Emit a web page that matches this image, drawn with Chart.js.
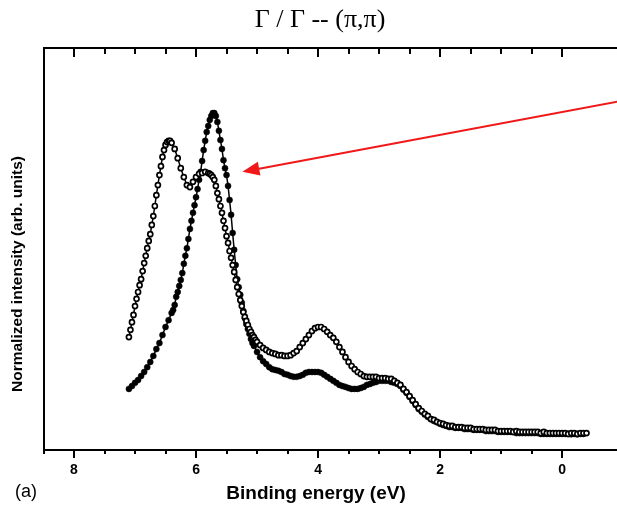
<!DOCTYPE html>
<html>
<head>
<meta charset="utf-8">
<script src="https://cdn.jsdelivr.net/npm/chart.js@4.4.1/dist/chart.umd.min.js"></script>
<style>
  html, body { margin: 0; padding: 0; background: #ffffff; }
  #wrap { width: 617px; height: 507px; position: relative; }
</style>
</head>
<body>
<div id="wrap"><canvas id="spec" width="617" height="507"></canvas></div>
<script>
// Γ / Γ -- (π,π) photoemission spectra: intensity vs binding energy (eV)

// Open-circle spectrum
const openEnergy = [
  7.100, 7.075, 7.050, 7.025, 7.000, 6.975, 6.950, 6.925, 6.900, 6.875,
  6.850, 6.825, 6.800, 6.775, 6.750, 6.725, 6.700, 6.675, 6.650, 6.625,
  6.600, 6.575, 6.550, 6.525, 6.500, 6.475, 6.450, 6.425, 6.400,
  6.35, 6.30, 6.25, 6.20, 6.15, 6.10, 6.05, 6.00, 5.95, 5.90, 5.85, 5.80,
  5.775, 5.750, 5.725, 5.700, 5.675, 5.650, 5.625, 5.600, 5.575, 5.550,
  5.525, 5.500, 5.475, 5.450, 5.425, 5.400, 5.375, 5.350, 5.325, 5.300,
  5.275, 5.250, 5.225, 5.200, 5.175, 5.150, 5.125, 5.100, 5.075, 5.050,
  5.025, 5.000,
  4.95, 4.90, 4.85, 4.80, 4.75, 4.70, 4.65, 4.60, 4.55, 4.50,
  4.45, 4.40, 4.35, 4.30, 4.25, 4.20, 4.15, 4.10, 4.05, 4.00,
  3.95, 3.90, 3.85, 3.80, 3.75, 3.70, 3.65, 3.60, 3.55, 3.50,
  3.45, 3.40, 3.35, 3.30, 3.25, 3.20, 3.15, 3.10, 3.05, 3.00,
  2.95, 2.90, 2.85, 2.80, 2.75, 2.70, 2.65, 2.60, 2.55, 2.50,
  2.45, 2.40, 2.35, 2.30, 2.25, 2.20, 2.15, 2.10, 2.05, 2.00,
  1.95, 1.90, 1.85, 1.80, 1.75, 1.70, 1.65, 1.60, 1.55, 1.50,
  1.45, 1.40, 1.35, 1.30, 1.25, 1.20, 1.15, 1.10, 1.05, 1.00,
  0.95, 0.90, 0.85, 0.80, 0.75, 0.70, 0.65, 0.60, 0.55, 0.50,
  0.45, 0.40, 0.35, 0.30, 0.25, 0.20, 0.15, 0.10, 0.05, 0.00,
  -0.05, -0.10, -0.15, -0.20, -0.25, -0.30, -0.35, -0.40
];
const openIntensity = [
  28.1, 29.9, 31.8, 33.6, 35.8, 37.6, 39.3, 41.0, 42.5, 44.5,
  46.5, 48.3, 50.2, 52.0, 53.7, 56.0, 58.2, 60.7, 63.4, 65.9,
  68.4, 70.6, 72.9, 74.6, 75.9, 76.6, 76.9, 76.9, 76.4,
  74.9, 72.6, 70.1, 67.9, 65.9, 65.4, 66.7, 67.9, 68.7, 68.9, 69.2, 68.9,
  68.7, 68.4, 67.9, 67.2, 65.7, 63.9, 62.4, 60.7, 59.0, 57.0,
  55.2, 53.2, 51.5, 49.5, 47.8, 46.0, 44.3, 42.3, 40.5, 38.8,
  37.3, 35.8, 34.3, 33.1, 32.1, 31.1, 30.1, 29.4, 28.6, 28.1,
  27.4, 26.9,
  26.1, 25.4, 24.9, 24.4, 24.1, 23.9, 23.6, 23.6, 23.4, 23.4,
  23.6, 24.1, 24.6, 25.6, 26.6, 27.6, 28.6, 29.6, 30.3, 30.6,
  30.6, 30.1, 29.4, 28.6, 27.9, 26.9, 25.6, 24.4, 23.1, 21.9,
  20.9, 20.1, 19.4, 18.9, 18.4, 18.2, 18.2, 18.2, 18.2, 17.9,
  17.9, 17.9, 17.7, 17.7, 17.2, 16.7, 16.2, 15.2, 14.4, 13.4,
  12.4, 11.4, 10.4, 9.7, 9.0, 8.5, 7.7, 7.5, 7.0, 6.7,
  6.5, 6.2, 6.0, 6.0, 5.7, 5.7, 5.7, 5.5, 5.5, 5.5,
  5.2, 5.2, 5.2, 5.2, 5.0, 5.0, 5.0, 5.0, 4.7, 4.7,
  4.7, 4.7, 4.7, 4.5, 4.7, 4.5, 4.5, 4.5, 4.5, 4.5,
  4.5, 4.5, 4.2, 4.5, 4.2, 4.2, 4.2, 4.2, 4.2, 4.2,
  4.2, 4.0, 4.2, 4.2, 4.0, 4.2, 4.2, 4.2
];

// Filled-circle spectrum
const filledEnergy = [
  7.10, 7.05, 7.00, 6.95, 6.90, 6.85, 6.80, 6.75, 6.70, 6.65,
  6.60, 6.55, 6.50, 6.45, 6.40,
  6.375, 6.350, 6.325, 6.300, 6.275, 6.250, 6.225, 6.200, 6.175, 6.150,
  6.125, 6.100, 6.075, 6.050, 6.025, 6.000, 5.975, 5.950, 5.925, 5.900,
  5.875, 5.850, 5.825, 5.800, 5.775, 5.750, 5.725, 5.700, 5.675, 5.650,
  5.625, 5.600, 5.575, 5.550, 5.525, 5.500, 5.475, 5.450, 5.425, 5.400,
  5.375, 5.350, 5.325, 5.300, 5.275, 5.250, 5.225, 5.200, 5.175, 5.150,
  5.125, 5.100, 5.075, 5.050,
  5.00, 4.95, 4.90, 4.85, 4.80, 4.75, 4.70, 4.65, 4.60, 4.55,
  4.50, 4.45, 4.40, 4.35, 4.30, 4.25, 4.20, 4.15, 4.10, 4.05,
  4.00, 3.95, 3.90, 3.85, 3.80, 3.75, 3.70, 3.65, 3.60, 3.55,
  3.50, 3.45, 3.40, 3.35, 3.30, 3.25, 3.20, 3.15, 3.10, 3.05,
  3.00, 2.95, 2.90, 2.85, 2.80, 2.75, 2.70, 2.65, 2.60, 2.55,
  2.50, 2.45, 2.40, 2.35, 2.30, 2.25, 2.20, 2.15, 2.10, 2.05,
  2.00, 1.95, 1.90, 1.85, 1.80, 1.75, 1.70, 1.65, 1.60, 1.55,
  1.50, 1.45, 1.40, 1.35, 1.30, 1.25, 1.20, 1.15, 1.10, 1.05,
  1.00, 0.95, 0.90, 0.85, 0.80, 0.75, 0.70, 0.65, 0.60, 0.55,
  0.50, 0.45, 0.40, 0.35, 0.30, 0.25, 0.20, 0.15, 0.10, 0.05,
  0.00, -0.05, -0.10, -0.15, -0.20, -0.25, -0.30, -0.35
];
const filledIntensity = [
  15.2, 15.9, 16.7, 17.4, 18.4, 19.4, 20.6, 21.9, 23.4, 25.1,
  26.6, 28.6, 30.6, 32.3, 34.1,
  34.8, 36.1, 38.1, 39.3, 40.8, 42.3, 44.0, 46.3, 48.3, 50.2,
  52.5, 55.0, 57.0, 59.0, 60.9, 62.9, 64.9, 67.2, 69.2, 71.9,
  74.6, 76.9, 79.1, 80.6, 82.1, 83.1, 83.8, 83.8, 83.1, 81.6,
  79.4, 77.1, 74.9, 72.1, 70.1, 68.4, 65.7, 62.2, 58.5, 54.0,
  49.8, 46.0, 42.5, 40.5, 38.6, 36.6, 34.6, 32.8, 31.3, 30.1,
  28.9, 27.6, 26.6, 25.9,
  24.4, 23.1, 22.1, 21.4, 20.6, 20.1, 19.9, 19.7, 19.4, 18.9,
  18.7, 18.4, 18.2, 18.2, 18.4, 18.7, 19.2, 19.4, 19.4, 19.4,
  19.4, 19.2, 18.7, 18.2, 17.7, 17.2, 16.7, 16.2, 15.9, 15.7,
  15.4, 15.2, 15.2, 15.2, 15.4, 15.7, 16.2, 16.4, 16.7, 16.9,
  17.2, 17.2, 17.2, 17.2, 16.9, 16.7, 16.4, 15.9, 15.0, 14.2,
  13.2, 12.2, 11.2, 10.2, 9.5, 8.8, 8.2, 7.7, 7.2, 6.9,
  6.5, 6.2, 6.0, 5.7, 5.7, 5.5, 5.5, 5.5, 5.2, 5.2,
  5.2, 5.0, 5.0, 5.0, 5.0, 4.7, 4.7, 4.7, 4.7, 4.5,
  4.5, 4.5, 4.5, 4.5, 4.5, 4.2, 4.2, 4.2, 4.2, 4.2,
  4.2, 4.2, 4.2, 4.0, 4.0, 4.0, 4.0, 4.0, 4.0, 4.0,
  4.0, 4.0, 4.0, 3.9, 4.0, 3.9, 4.0, 4.0
];

// Axis range (binding energy runs right-to-left) and labelled ticks
const energyRange = [-0.9, 8.5];
const intensityRange = [0, 100];
const labelledTicks = [8, 6, 4, 2, 0];

// Red pointer: tip near the filled-curve shoulder, tail off to the upper right
const arrowTip = { x: 5.24, y: 69.2 };
const arrowTail = { x: -1.2, y: 87.5 };

const pairs = (xs, ys) => xs.map((x, i) => ({ x, y: ys[i] }));

// Keep the plot frame flush with the canvas edge
const noSidePadding = (s) => { s.paddingLeft = 0; s.paddingRight = 0; };

const frameTicks = {
  id: 'frameTicks',
  afterDraw(chart) {
    const { ctx, chartArea: a, scales: { x } } = chart;
    ctx.save();
    ctx.strokeStyle = '#000';
    ctx.lineWidth = 2;
    for (const t of x.ticks) {
      const v = t.value;
      if (Math.abs(v * 2 - Math.round(v * 2)) > 1e-6) continue;
      const px = Math.round(x.getPixelForValue(v));
      const major = labelledTicks.some(l => Math.abs(l - v) < 1e-6);
      ctx.beginPath();
      ctx.moveTo(px, a.bottom);
      ctx.lineTo(px, a.bottom + (major ? 8 : 4));
      ctx.moveTo(px, a.top);
      ctx.lineTo(px, a.top + (major ? 9 : 6));
      ctx.stroke();
    }
    ctx.restore();
  }
};

const pointer = {
  id: 'pointer',
  afterDatasetsDraw(chart) {
    const { ctx, scales: { x, y } } = chart;
    const tx = x.getPixelForValue(arrowTip.x), ty = y.getPixelForValue(arrowTip.y);
    const sx = x.getPixelForValue(arrowTail.x), sy = y.getPixelForValue(arrowTail.y);
    const ang = Math.atan2(ty - sy, tx - sx);
    const headLen = 17, headHalf = 7;
    const bx = tx - headLen * Math.cos(ang), by = ty - headLen * Math.sin(ang);
    ctx.save();
    ctx.strokeStyle = '#f01818';
    ctx.fillStyle = '#f01818';
    ctx.lineWidth = 2;
    ctx.beginPath();
    ctx.moveTo(sx, sy);
    ctx.lineTo(bx, by);
    ctx.stroke();
    ctx.beginPath();
    ctx.moveTo(tx, ty);
    ctx.lineTo(bx + headHalf * Math.sin(ang), by - headHalf * Math.cos(ang));
    ctx.lineTo(bx - headHalf * Math.sin(ang), by + headHalf * Math.cos(ang));
    ctx.closePath();
    ctx.fill();
    ctx.restore();
  }
};

const captions = {
  id: 'captions',
  afterDraw(chart) {
    const { ctx } = chart;
    ctx.save();
    ctx.fillStyle = '#000';
    ctx.textAlign = 'center';
    ctx.textBaseline = 'middle';
    ctx.font = '26px "Liberation Serif", serif';
    ctx.fillText('Γ / Γ -- (π,π)', 320, 20);
    ctx.font = 'bold 19px "Liberation Sans", Arial, sans-serif';
    ctx.fillText('Binding energy (eV)', 316, 494);
    ctx.font = '18px "Liberation Sans", Arial, sans-serif';
    ctx.fillText('(a)', 26, 492);
    ctx.translate(18, 274);
    ctx.rotate(-Math.PI / 2);
    ctx.font = 'bold 15.5px "Liberation Sans", Arial, sans-serif';
    ctx.fillText('Normalized intensity (arb. units)', 0, 0);
    ctx.restore();
  }
};

new Chart(document.getElementById('spec'), {
  type: 'line',
  data: {
    datasets: [
      {
        label: 'open',
        data: pairs(openEnergy, openIntensity),
        borderColor: '#000',
        borderWidth: 1.5,
        pointRadius: 2.5,
        pointBorderWidth: 1.7,
        pointBackgroundColor: '#fff',
        pointBorderColor: '#000',
        tension: 0
      },
      {
        label: 'filled',
        data: pairs(filledEnergy, filledIntensity),
        borderColor: '#000',
        borderWidth: 1.5,
        pointRadius: 3.0,
        pointBorderWidth: 0.5,
        pointBackgroundColor: '#000',
        pointBorderColor: '#000',
        tension: 0
      }
    ]
  },
  options: {
    responsive: false,
    animation: false,
    devicePixelRatio: 1,
    events: [],
    layout: { padding: 0, autoPadding: false },
    plugins: { legend: { display: false }, title: { display: false }, tooltip: { enabled: false } },
    scales: {
      x: {
        type: 'linear',
        position: 'bottom',
        reverse: true,
        min: energyRange[0],
        max: energyRange[1],
        grid: { display: false, drawTicks: false },
        border: { display: true, color: '#000', width: 2 },
        ticks: {
          stepSize: 0.5,
          autoSkip: false,
          maxRotation: 0,
          padding: 12,
          color: '#000',
          font: { family: '"Liberation Sans", Arial, sans-serif', size: 14, weight: 'bold' },
          callback: (v) => labelledTicks.some(l => Math.abs(l - v) < 1e-6) ? String(Math.round(v)) : ''
        },
        afterFit: (s) => { s.height = 57; noSidePadding(s); }
      },
      xTop: {
        type: 'linear',
        position: 'top',
        reverse: true,
        min: energyRange[0],
        max: energyRange[1],
        grid: { display: false, drawTicks: false },
        border: { display: true, color: '#000', width: 2 },
        ticks: { display: false },
        afterFit: (s) => { s.height = 48; noSidePadding(s); }
      },
      y: {
        type: 'linear',
        min: intensityRange[0],
        max: intensityRange[1],
        grid: { display: false, drawTicks: false },
        border: { display: true, color: '#000', width: 2 },
        ticks: { display: false },
        afterFit: (s) => { s.width = 43.5; }
      }
    }
  },
  plugins: [frameTicks, pointer, captions]
});
</script>
</body>
</html>
